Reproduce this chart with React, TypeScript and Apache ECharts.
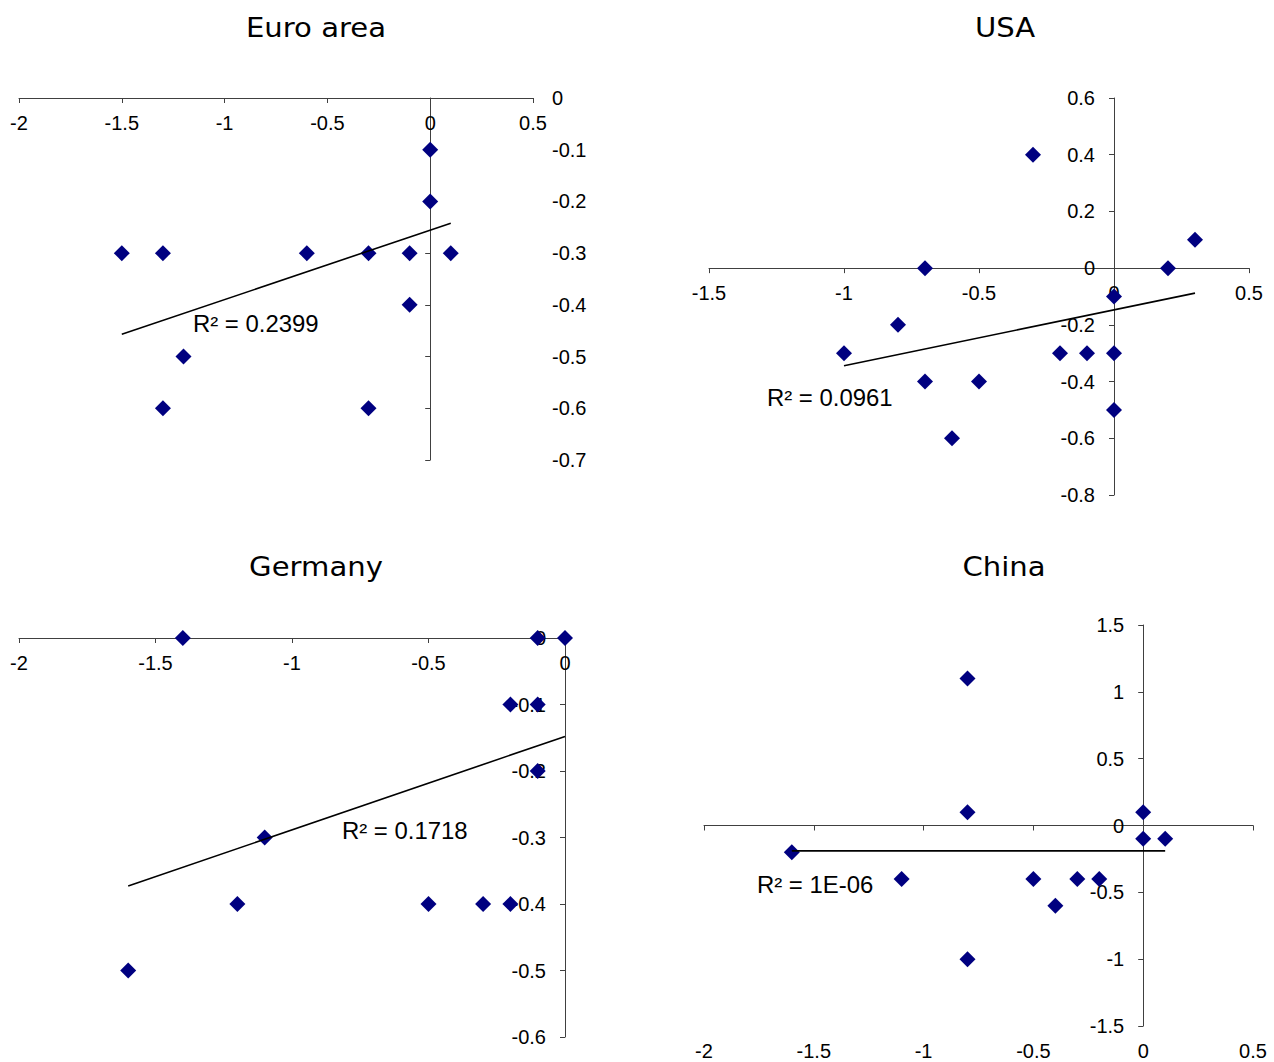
import React, { useEffect, useRef } from "react";
import * as echarts from "echarts";

// ---- Data ----
const panelTitles = ["Euro area", "USA", "Germany", "China"];
const r2Labels = ["R\u00b2 = 0.2399", "R\u00b2 = 0.0961", "R\u00b2 = 0.1718", "R\u00b2 = 1E-06"];

const euroX = [0, 0, -1.5, -1.3, -0.6, -0.3, -0.1, 0.1, -0.1, -1.2, -1.3, -0.3];
const euroY = [-0.1, -0.2, -0.3, -0.3, -0.3, -0.3, -0.3, -0.3, -0.4, -0.5, -0.6, -0.6];
const euroTrendX = [-1.5, 0.1];
const euroTrendY = [-0.457, -0.242];

const usaX = [-0.3, 0.3, -0.7, 0.2, 0, -0.8, -1, -0.2, -0.1, 0, -0.7, -0.5, 0, -0.6];
const usaY = [0.4, 0.1, 0, 0, -0.1, -0.2, -0.3, -0.3, -0.3, -0.3, -0.4, -0.4, -0.5, -0.6];
const usaTrendX = [-1, 0.3];
const usaTrendY = [-0.344, -0.088];

const gerX = [-1.4, -0.1, 0, -0.2, -0.1, -0.1, -1.1, -1.2, -0.5, -0.3, -0.2, -1.6];
const gerY = [0, 0, 0, -0.1, -0.1, -0.2, -0.3, -0.4, -0.4, -0.4, -0.4, -0.5];
const gerTrendX = [-1.6, 0];
const gerTrendY = [-0.373, -0.148];

const chnX = [-0.8, -0.8, 0, 0, 0.1, -1.6, -1.1, -0.5, -0.3, -0.2, -0.4, -0.8];
const chnY = [1.1, 0.1, 0.1, -0.1, -0.1, -0.2, -0.4, -0.4, -0.4, -0.4, -0.6, -1.0];
const chnTrendX = [-1.6, 0.1];
const chnTrendY = [-0.19, -0.19];

// axis ranges: [min, max, interval]
const euroXRange = [-2, 0.5, 0.5];
const euroYRange = [-0.7, 0, 0.1];
const usaXRange = [-1.5, 0.5, 0.5];
const usaYRange = [-0.8, 0.6, 0.2];
const gerXRange = [-2, 0, 0.5];
const gerYRange = [-0.6, 0, 0.1];
const chnXRange = [-2, 0.5, 0.5];
const chnYRange = [-1.5, 1.5, 0.5];

const pairs = (xs: number[], ys: number[]) => xs.map((x, i) => [x, ys[i]]);

const AXIS_COLOR = "#404040";
const LABEL_FONT = "'Liberation Sans', Arial, sans-serif";
const TITLE_FONT = "'DejaVu Sans', Verdana, sans-serif";

// fraction of the axis length at which value 0 lies (measured from min)
const zeroFrac = (r: number[]) => (0 - r[0]) / (r[1] - r[0]);

function axis(
  gridIndex: number,
  range: number[],
  opts: { position: string; offset: number; showLine: boolean; showLabel: boolean; margin: number }
) {
  return {
    type: "value",
    gridIndex,
    min: range[0],
    max: range[1],
    interval: range[2],
    position: opts.position,
    offset: opts.offset,
    splitLine: { show: false },
    axisLine: {
      show: opts.showLine,
      onZero: false,
      lineStyle: { color: AXIS_COLOR, width: 1 },
    },
    axisTick: {
      show: opts.showLine,
      inside: false,
      length: 5,
      lineStyle: { color: AXIS_COLOR, width: 1 },
    },
    axisLabel: {
      show: opts.showLabel,
      margin: opts.margin,
      fontFamily: LABEL_FONT,
      fontSize: 20,
      color: "#000",
      showMinLabel: true,
      showMaxLabel: true,
    },
  };
}

function buildOption() {
  const grids = [
    { left: 19, top: 98, width: 514, height: 362 },
    { left: 709, top: 98, width: 540, height: 397 },
    { left: 19, top: 638, width: 546, height: 399 },
    { left: 704, top: 625, width: 549, height: 401 },
  ].map((g) => ({ ...g, containLabel: false, outerBoundsMode: "none" }));

  // offsets that put each axis on the other axis' zero
  const xOff = (gi: number, yRange: number[]) => -zeroFrac(yRange) * grids[gi].height;
  const yOff = (gi: number, xRange: number[]) => -zeroFrac(xRange) * grids[gi].width;

  const xAxes = [
    axis(0, euroXRange, { position: "bottom", offset: xOff(0, euroYRange), showLine: true, showLabel: true, margin: 15 }),
    axis(1, usaXRange, { position: "bottom", offset: xOff(1, usaYRange), showLine: true, showLabel: true, margin: 15 }),
    axis(2, gerXRange, { position: "bottom", offset: xOff(2, gerYRange), showLine: true, showLabel: true, margin: 15 }),
    axis(3, chnXRange, { position: "bottom", offset: xOff(3, chnYRange), showLine: true, showLabel: false, margin: 15 }),
    axis(3, chnXRange, { position: "bottom", offset: 0, showLine: false, showLabel: true, margin: 15 }),
  ];
  const yAxes = [
    axis(0, euroYRange, { position: "left", offset: yOff(0, euroXRange), showLine: true, showLabel: false, margin: 19 }),
    axis(0, euroYRange, { position: "right", offset: 0, showLine: false, showLabel: true, margin: 19 }),
    axis(1, usaYRange, { position: "left", offset: yOff(1, usaXRange), showLine: true, showLabel: true, margin: 19 }),
    axis(2, gerYRange, { position: "left", offset: yOff(2, gerXRange), showLine: true, showLabel: true, margin: 19 }),
    axis(3, chnYRange, { position: "left", offset: yOff(3, chnXRange), showLine: true, showLabel: true, margin: 19 }),
  ];

  const panels = [
    { xs: euroX, ys: euroY, tx: euroTrendX, ty: euroTrendY, xi: 0, yi: 0 },
    { xs: usaX, ys: usaY, tx: usaTrendX, ty: usaTrendY, xi: 1, yi: 2 },
    { xs: gerX, ys: gerY, tx: gerTrendX, ty: gerTrendY, xi: 2, yi: 3 },
    { xs: chnX, ys: chnY, tx: chnTrendX, ty: chnTrendY, xi: 3, yi: 4 },
  ];

  const series: any[] = [];
  panels.forEach((p) => {
    series.push({
      type: "scatter",
      xAxisIndex: p.xi,
      yAxisIndex: p.yi,
      data: pairs(p.xs, p.ys),
      symbol: "diamond",
      symbolSize: 16,
      itemStyle: { color: "#000080", opacity: 1 },
      clip: false,
      silent: true,
      z: 2,
    });
    series.push({
      type: "line",
      xAxisIndex: p.xi,
      yAxisIndex: p.yi,
      data: pairs(p.tx, p.ty),
      symbol: "none",
      lineStyle: { color: "#000", width: 1.6 },
      clip: false,
      silent: true,
      z: 3,
    });
  });

  const titlePos = [
    [316, 28],
    [1005, 28],
    [316, 567],
    [1004, 567],
  ];
  const r2Pos = [
    [193, 324],
    [767, 398],
    [342, 831],
    [757, 885],
  ];

  const graphic: any[] = [];
  panelTitles.forEach((t, i) => {
    graphic.push({
      type: "text",
      x: titlePos[i][0],
      y: titlePos[i][1],
      scaleX: 1.12,
      style: {
        text: t,
        fontFamily: TITLE_FONT,
        fontSize: 26,
        fill: "#000",
        textAlign: "center",
        textVerticalAlign: "middle",
      },
      silent: true,
    });
  });
  r2Labels.forEach((t, i) => {
    graphic.push({
      type: "text",
      x: r2Pos[i][0],
      y: r2Pos[i][1],
      scaleX: 1.04,
      style: {
        text: t,
        fontFamily: LABEL_FONT,
        fontSize: 23,
        fill: "#000",
        textAlign: "left",
        textVerticalAlign: "middle",
      },
      silent: true,
      z: 10,
    });
  });

  return {
    animation: false,
    backgroundColor: "#fff",
    grid: grids,
    xAxis: xAxes,
    yAxis: yAxes,
    series,
    graphic,
  };
}

export default function App() {
  const ref = useRef<HTMLDivElement>(null);
  useEffect(() => {
    if (!ref.current) return;
    const chart = echarts.init(ref.current, undefined, { renderer: "svg" });
    chart.setOption(buildOption() as any);
    return () => chart.dispose();
  }, []);
  return (
    <div
      ref={ref}
      style={{ position: "absolute", left: 0, top: 0, width: 1274, height: 1062 }}
    />
  );
}
